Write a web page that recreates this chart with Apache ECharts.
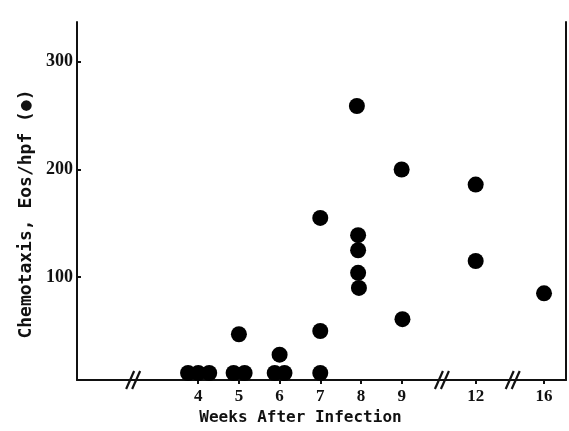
<!DOCTYPE html>
<html>
<head>
<meta charset="utf-8">
<script src="https://cdn.jsdelivr.net/npm/echarts@6/dist/echarts.min.js"></script>
<style>
  html, body { margin: 0; padding: 0; background: #fff; }
  #mychart { width: 569px; height: 431px; }
</style>
</head>
<body>
<div id="mychart"></div>
<script>
// weeks after infection, one entry per dot
let weeks  = [4, 4, 4, 5, 5, 5, 6, 6, 6, 7, 7, 7, 8, 8, 8, 8, 8, 9, 9, 12, 12, 16]
// small sideways shift of overlapping dots (in weeks)
let jitter = [-0.25, 0, 0.27, -0.13, 0.14, 0, -0.12, 0.12, 0, 0, 0, 0, -0.1, -0.07, -0.07, -0.07, -0.05, 0, 0.02, 0, 0, 0]
let eos    = [11, 11, 11, 11, 11, 47, 11, 11, 28, 11, 50, 155, 259, 139, 125, 104, 90, 200, 61, 186, 115, 85]

// the axis is broken after 9 and 12, so weeks map to compressed positions
let tickWeeks = [4, 5, 6, 7, 8, 9, 12, 16]
let tickPos   = [4, 5, 6, 7, 8, 9, 10.82, 12.5]
let breakPos  = [2.4, 9.99, 11.73]
let yTicks    = [100, 200, 300]

function weekToPos(w) {
    return tickPos[tickWeeks.indexOf(w)]
}

let yMin = 4.5
let yMax = 337

let points = []
for (let i = 0; i < weeks.length; i++) {
    points.push([weekToPos(weeks[i]) + jitter[i], eos[i]])
}

let breaks = []
for (let i = 0; i < breakPos.length; i++) {
    breaks.push([breakPos[i], yMin])
}

let myChart = echarts.init(document.getElementById('mychart'))

let option = {
    backgroundColor: '#fff',
    animation: false,
    grid: { left: 77, right: 3, top: 22, bottom: 43 },
    xAxis: {
        type: 'value',
        min: 1.02,
        max: 13.04,
        name: 'Weeks After Infection',
        nameLocation: 'middle',
        nameGap: 30,
        nameTextStyle: {
            fontFamily: 'DejaVu Sans Mono',
            fontWeight: 'bold',
            fontSize: 16,
            color: '#111',
            padding: [0, 42, 0, 0]
        },
        splitLine: { show: false },
        axisLine: { lineStyle: { color: '#111', width: 2 } },
        axisTick: {
            customValues: tickPos,
            length: 4,
            lineStyle: { color: '#111', width: 2 }
        },
        axisLabel: {
            customValues: tickPos,
            margin: 8,
            fontFamily: 'Liberation Serif',
            fontWeight: 'bold',
            fontSize: 17,
            color: '#111',
            formatter: function (v) {
                for (let i = 0; i < tickPos.length; i++) {
                    if (Math.abs(tickPos[i] - v) < 0.01) return String(tickWeeks[i])
                }
                return ''
            }
        }
    },
    yAxis: [{
        type: 'value',
        min: yMin,
        max: yMax,
        name: 'Chemotaxis, Eos/hpf (●)',
        nameLocation: 'middle',
        nameGap: 40,
        nameTextStyle: {
            fontFamily: 'DejaVu Sans Mono',
            fontWeight: 'bold',
            fontSize: 18,
            color: '#111',
            padding: [0, 26, 0, 0]
        },
        splitLine: { show: false },
        axisLine: { lineStyle: { color: '#111', width: 2 } },
        axisTick: {
            customValues: yTicks,
            inside: true,
            length: 4,
            lineStyle: { color: '#111', width: 2 }
        },
        axisLabel: {
            customValues: yTicks,
            margin: 4,
            fontFamily: 'Liberation Serif',
            fontWeight: 'bold',
            fontSize: 18,
            color: '#111'
        }
    }, {
        type: 'value',
        position: 'right',
        min: yMin,
        max: yMax,
        splitLine: { show: false },
        axisLine: { show: true, lineStyle: { color: '#111', width: 2 } },
        axisTick: { show: false },
        axisLabel: { show: false }
    }],
    series: [{
        type: 'scatter',
        data: points,
        symbol: 'circle',
        symbolSize: 16,
        itemStyle: { color: '#000', opacity: 1 },
        z: 3
    }, {
        type: 'custom',
        data: breaks,
        z: 4,
        renderItem: function (params, api) {
            let p = api.coord([api.value(0), api.value(1)])
            let kids = []
            let offs = [-3, 3]
            for (let k = 0; k < offs.length; k++) {
                kids.push({
                    type: 'line',
                    shape: { x1: p[0] + offs[k] - 4, y1: p[1] + 9, x2: p[0] + offs[k] + 4, y2: p[1] - 9 },
                    style: { stroke: '#111', lineWidth: 2.2 }
                })
            }
            return { type: 'group', children: kids }
        }
    }]
}

myChart.setOption(option)
</script>
</body>
</html>
